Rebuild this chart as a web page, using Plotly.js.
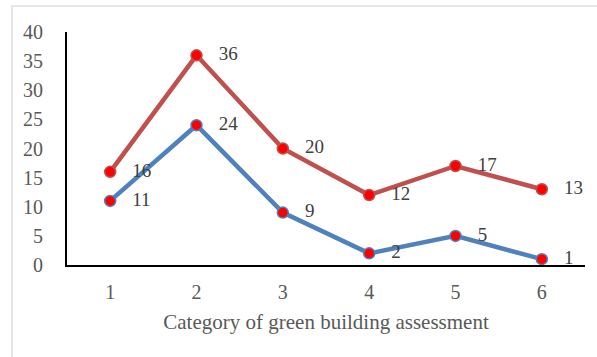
<!DOCTYPE html>
<html><head><meta charset="utf-8">
<script src="https://cdn.plot.ly/plotly-3.0.1.min.js"></script>
<style>
html,body{margin:0;padding:0;background:#fff;}
#frame{position:absolute;left:11px;top:5px;width:590px;height:360px;border-left:2px solid #e6e6e6;border-top:2px solid #e6e6e6;}
#chart{position:absolute;left:0;top:0;width:597px;height:357px;}
</style></head>
<body>
<div id="frame"></div>
<div id="chart"></div>
<script>
const categories = [1, 2, 3, 4, 5, 6];
const upperSeries = [16, 36, 20, 12, 17, 13];
const lowerSeries = [11, 24, 9, 2, 5, 1];
const xTitle = 'Category of green building assessment';

const labelFont = {family: 'Liberation Serif, Times New Roman, serif', size: 19, color: '#404040'};
function series(y, color) {
  return {
    x: categories, y: y, type: 'scatter', mode: 'lines+markers+text',
    line: {color: color, width: 4.5},
    marker: {color: '#ff0000', size: 11, line: {color: color, width: 1.5}},
    text: y.map(v => '\u2002 ' + v), textposition: 'middle right', textfont: labelFont,
    cliponaxis: false, hoverinfo: 'none'
  };
}
const data = [series(lowerSeries, '#4f81bd'), series(upperSeries, '#c0504d')];
const tickFont = {family: 'Liberation Serif, Times New Roman, serif', size: 20, color: '#595959'};
const titleFont = {family: 'Liberation Serif, Times New Roman, serif', size: 21, color: '#595959'};
const layout = {
  width: 597, height: 357,
  margin: {l: 67, r: 12, t: 32, b: 92},
  paper_bgcolor: 'rgba(0,0,0,0)', plot_bgcolor: 'rgba(0,0,0,0)',
  showlegend: false,
  xaxis: {
    range: [0.5, 6.5], tickvals: categories, ticktext: categories.map(String),
    showline: true, linecolor: '#000', linewidth: 2, showgrid: false, zeroline: false,
    ticks: '', tickfont: tickFont, ticklabelstandoff: 8,
    title: {text: xTitle, font: titleFont, standoff: 12}
  },
  yaxis: {
    range: [0, 40], dtick: 5, showline: true, linecolor: '#000', linewidth: 2,
    showgrid: false, zeroline: false, ticks: '', tickfont: tickFont, ticklabelstandoff: 18
  }
};
Plotly.newPlot('chart', data, layout, {staticPlot: true});
</script>
</body></html>
